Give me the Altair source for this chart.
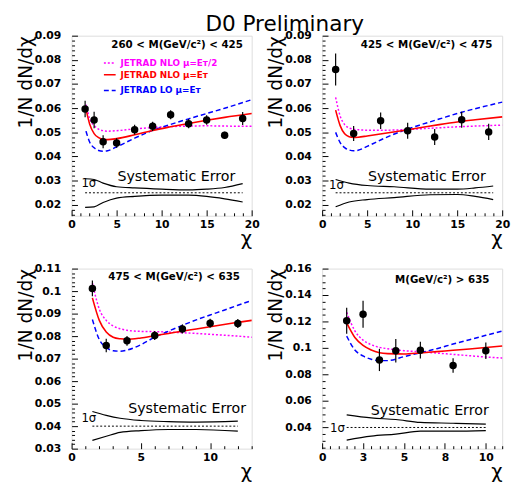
import altair as alt
import pandas as pd
import numpy as np

FONT = "DejaVu Sans"
W, H = 184, 184

TITLE = "D0 Preliminary"
MODEL_LABELS = ["JETRAD NLO μ=Eᴛ/2", "JETRAD NLO μ=Eᴛ", "JETRAD LO μ=Eᴛ"]
SYS_TEXT = "Systematic Error"
SIGMA_TEXT = "1σ"
X_TITLE = "χ"
Y_TITLE = "1/N dN/dχ"

# ---------------- panel 1 : 260 < M < 425 ----------------
P1_LABEL = "260 < M(GeV/c²) < 425"
P1_X = [1.5, 2.5, 3.5, 5, 7, 9, 11, 13, 15, 17, 19]
P1_Y = [0.0597, 0.0551, 0.0461, 0.0456, 0.0511, 0.0525, 0.0573, 0.0536, 0.0551, 0.0488, 0.0557]
P1_ERR = [0.0034, 0.0034, 0.0027, 0.0020, 0.0020, 0.0019, 0.0019, 0.0019, 0.0020, 0.0015, 0.0027]
P1_CX = [1.6, 2.0, 2.5, 3.0, 3.5, 4.0, 5.0, 7.0, 9.0, 11.0, 13.0, 15.0, 17.0, 20.0]
P1_NLO_HALF = [0.0615, 0.0557, 0.0528, 0.0513, 0.0507, 0.0505, 0.0507, 0.0514, 0.0520, 0.0524, 0.0526, 0.0527, 0.0526, 0.0525]
P1_NLO = [0.0595, 0.0535, 0.0495, 0.0478, 0.0471, 0.0470, 0.0474, 0.0490, 0.0508, 0.0523, 0.0537, 0.0550, 0.0562, 0.0578]
P1_LO = [0.0505, 0.0460, 0.0436, 0.0425, 0.0422, 0.0424, 0.0440, 0.0476, 0.0508, 0.0533, 0.0556, 0.0578, 0.0600, 0.0635]
P1_SX = [1.5, 2.5, 3.5, 5, 7, 10, 13, 15, 17, 19]
P1_SUP = [0.0308, 0.0305, 0.0290, 0.0275, 0.0270, 0.0265, 0.0262, 0.0265, 0.0272, 0.0288]
P1_SLO = [0.0190, 0.0192, 0.0210, 0.0228, 0.0235, 0.0240, 0.0240, 0.0235, 0.0225, 0.0212]
P1_SMID = 0.025
P1_XTICKS = [0, 5, 10, 15, 20]
P1_YTICKS = [0.02, 0.03, 0.04, 0.05, 0.06, 0.07, 0.08, 0.09]

# ---------------- panel 2 : 425 < M < 475 ----------------
P2_LABEL = "425 < M(GeV/c²) < 475"
P2_X = [1.5, 3.5, 6.5, 9.5, 12.5, 15.5, 18.5]
P2_Y = [0.0760, 0.0495, 0.0548, 0.0507, 0.0481, 0.0552, 0.0502]
P2_ERR = [0.0066, 0.0031, 0.0034, 0.0033, 0.0033, 0.0033, 0.0034]
P2_CX = [1.5, 2.0, 2.5, 3.0, 3.5, 4.0, 5.0, 7.0, 9.0, 11.0, 13.0, 15.0, 17.0, 20.0]
P2_NLO_HALF = [0.0645, 0.0568, 0.0532, 0.0518, 0.0513, 0.0511, 0.0509, 0.0509, 0.0511, 0.0515, 0.0519, 0.0523, 0.0526, 0.0530]
P2_NLO = [0.0592, 0.0528, 0.0494, 0.0482, 0.0479, 0.0480, 0.0485, 0.0496, 0.0508, 0.0520, 0.0532, 0.0543, 0.0552, 0.0564]
P2_LO = [0.0500, 0.0458, 0.0437, 0.0427, 0.0424, 0.0426, 0.0442, 0.0477, 0.0507, 0.0532, 0.0555, 0.0578, 0.0598, 0.0625]
P2_SX = [1.5, 3, 5, 8, 12, 15, 17, 19]
P2_SUP = [0.0305, 0.0290, 0.0280, 0.0275, 0.0265, 0.0265, 0.0270, 0.0278]
P2_SLO = [0.0192, 0.0212, 0.0222, 0.0230, 0.0242, 0.0243, 0.0235, 0.0222]
P2_SMID = 0.025
P2_XTICKS = [0, 5, 10, 15, 20]
P2_YTICKS = [0.02, 0.03, 0.04, 0.05, 0.06, 0.07, 0.08, 0.09]

# ---------------- panel 3 : 475 < M < 635 ----------------
P3_LABEL = "475 < M(GeV/c²) < 635"
P3_X = [1.5, 2.5, 4, 6, 8, 10, 12]
P3_Y = [0.1012, 0.0758, 0.0779, 0.0803, 0.0832, 0.0857, 0.0856]
P3_ERR = [0.0035, 0.0030, 0.0022, 0.0020, 0.0020, 0.0020, 0.0020]
P3_CX = [1.5, 2, 2.5, 3, 3.5, 4, 5, 6, 7, 8, 9, 10, 11, 12, 13]
P3_NLO_HALF = [0.1035, 0.0920, 0.0870, 0.0845, 0.0833, 0.0826, 0.0821, 0.0820, 0.0818, 0.0815, 0.0812, 0.0808, 0.0804, 0.0800, 0.0795]
P3_NLO = [0.0970, 0.0870, 0.0818, 0.0795, 0.0788, 0.0786, 0.0792, 0.0802, 0.0812, 0.0822, 0.0832, 0.0842, 0.0852, 0.0861, 0.0870]
P3_LO = [0.0874, 0.0785, 0.0750, 0.0735, 0.0733, 0.0738, 0.0762, 0.0795, 0.0822, 0.0848, 0.0872, 0.0894, 0.0915, 0.0937, 0.0958]
P3_SX = [1.5, 2.5, 3.5, 5, 7, 9, 12]
P3_SUP = [0.0465, 0.0448, 0.0435, 0.0425, 0.0420, 0.0418, 0.0422]
P3_SLO = [0.0337, 0.0355, 0.0372, 0.0380, 0.0385, 0.0385, 0.0378]
P3_SMID = 0.04
P3_XTICKS = [0, 5, 10]
P3_YTICKS = [0.03, 0.04, 0.05, 0.06, 0.07, 0.08, 0.09, 0.1, 0.11]

# ---------------- panel 4 : M > 635 ----------------
P4_LABEL = "M(GeV/c²) > 635"
P4_X = [1.5, 2.5, 3.5, 4.5, 6, 8, 10]
P4_Y = [0.1206, 0.1255, 0.0910, 0.0979, 0.0984, 0.0868, 0.0979]
P4_ERR = [0.0099, 0.0102, 0.0084, 0.0089, 0.0064, 0.0055, 0.0062]
P4_CX = [1.5, 2, 2.5, 3, 3.5, 4, 5, 6, 7, 8, 9, 10, 11]
P4_NLO_HALF = [0.1270, 0.1130, 0.1060, 0.1025, 0.1005, 0.0995, 0.0980, 0.0972, 0.0962, 0.0952, 0.0942, 0.0932, 0.0925]
P4_NLO = [0.1190, 0.1080, 0.1020, 0.0985, 0.0965, 0.0958, 0.0955, 0.0963, 0.0973, 0.0983, 0.0993, 0.1004, 0.1015]
P4_LO = [0.1090, 0.0985, 0.0940, 0.0915, 0.0905, 0.0905, 0.0935, 0.0965, 0.0995, 0.1030, 0.1063, 0.1096, 0.1128]
P4_SX = [1.5, 3, 4.5, 6, 8, 10]
P4_SUP = [0.0495, 0.0472, 0.0460, 0.0438, 0.0432, 0.0425]
P4_SLO = [0.0305, 0.0335, 0.0350, 0.0372, 0.0372, 0.0376]
P4_SMID = 0.04
P4_XTICKS = [0, 2.5, 5, 7.5, 10]
P4_YTICKS = [0.04, 0.06, 0.08, 0.1, 0.12, 0.14, 0.16]

MAGENTA, RED, BLUE = "#ff00ff", "#ff0000", "#0000ff"


def minor(lo, hi, step):
    k0 = int(np.ceil(lo / step - 1e-9))
    k1 = int(np.floor(hi / step + 1e-9))
    return [round(k * step, 6) for k in range(k0, k1 + 1)]


def txt(s, x, y, size, weight="normal", align="left", color="black"):
    return alt.Chart(pd.DataFrame({"t": [s]})).mark_text(
        font=FONT, fontSize=size, fontWeight=weight, align=align,
        baseline="middle", color=color
    ).encode(text="t:N", x=alt.value(x), y=alt.value(y))


def panel(label, xmax, ymin, ymax, xmajor, ymajor, xminor, yminor, xstep, ystep,
          px, py, perr, cx, c_half, c_nlo, c_lo, sx, s_up, s_lo, s_mid,
          lab_pos, sys_pos, sig_pos, legend=False):
    xs = alt.Scale(domain=[0, xmax], nice=False, zero=False)
    ys = alt.Scale(domain=[ymin, ymax], nice=False, zero=False)

    ax_lab_x = alt.Axis(values=xmajor, orient="bottom", ticks=False, domain=False, grid=False,
                        labelFont=FONT, labelFontWeight="bold", labelFontSize=11, labelColor="black",
                        labelPadding=3, labelFlush=False, labelOverlap=False, format="~r",
                        title=X_TITLE, titleFont=FONT, titleFontSize=20, titleFontWeight="normal",
                        titleColor="black", titleX=W, titleY=29, titleAlign="right",
                        titleBaseline="alphabetic", titleAngle=0)
    ax_lab_y = alt.Axis(values=ymajor, orient="left", ticks=False, domain=False, grid=False,
                        labelFont=FONT, labelFontWeight="bold", labelFontSize=11, labelColor="black",
                        labelPadding=11, labelOverlap=False, format="~r",
                        title=Y_TITLE, titleFont=FONT, titleFontSize=19, titleFontWeight="normal",
                        titleColor="black", titleAnchor="end", titlePadding=-1)
    ax_tick_x = alt.Axis(values=xminor, orient="top", offset=-H, labels=False, domain=False,
                         grid=False, title=None, tickColor="black", tickWidth=1,
                         tickSize={"condition": {"test": f"abs(datum.value/{xstep} - round(datum.value/{xstep})) < 0.000001", "value": 6}, "value": 3})
    ax_tick_y = alt.Axis(values=yminor, orient="right", offset=-W, labels=False, domain=False,
                         grid=False, title=None, tickColor="black", tickWidth=1,
                         tickSize={"condition": {"test": f"abs(datum.value/{ystep} - round(datum.value/{ystep})) < 0.000001", "value": 6}, "value": 3})

    mid_df = pd.DataFrame({"chi": [sx[0], sx[-1]], "v": [s_mid, s_mid]})
    mid = alt.Chart(mid_df).mark_line(color="black", strokeWidth=1, strokeDash=[2, 2]).encode(
        x=alt.X("chi:Q", scale=xs, axis=ax_lab_x), y=alt.Y("v:Q", scale=ys, axis=ax_lab_y))

    sys_df = pd.DataFrame({"chi": sx, "up": s_up, "lo": s_lo})
    sys_up = alt.Chart(sys_df).mark_line(color="black", strokeWidth=1.2, interpolate="monotone").encode(
        x=alt.X("chi:Q", scale=xs, axis=None), y=alt.Y("up:Q", scale=ys, axis=None))
    sys_lo = alt.Chart(sys_df).mark_line(color="black", strokeWidth=1.2, interpolate="monotone").encode(
        x=alt.X("chi:Q", scale=xs, axis=None), y=alt.Y("lo:Q", scale=ys, axis=None))

    cdf = pd.DataFrame({"chi": cx, "half": c_half, "nlo": c_nlo, "lo": c_lo})
    c1 = alt.Chart(cdf).mark_line(color=MAGENTA, strokeWidth=1.5, strokeDash=[2, 2], interpolate="monotone").encode(
        x=alt.X("chi:Q", scale=xs, axis=None), y=alt.Y("half:Q", scale=ys, axis=None))
    c3 = alt.Chart(cdf).mark_line(color=BLUE, strokeWidth=1.5, strokeDash=[5, 3], interpolate="monotone").encode(
        x=alt.X("chi:Q", scale=xs, axis=None), y=alt.Y("lo:Q", scale=ys, axis=None))
    c2 = alt.Chart(cdf).mark_line(color=RED, strokeWidth=1.6, interpolate="monotone").encode(
        x=alt.X("chi:Q", scale=xs, axis=ax_tick_x), y=alt.Y("nlo:Q", scale=ys, axis=ax_tick_y))

    pdf = pd.DataFrame({"chi": px, "v": py, "e": perr})
    bars = alt.Chart(pdf).transform_calculate(lo="datum.v - datum.e", hi="datum.v + datum.e").mark_rule(
        color="black", strokeWidth=1.2).encode(
        x=alt.X("chi:Q", scale=xs, axis=None), y=alt.Y("lo:Q", scale=ys, axis=None), y2="hi:Q")
    pts = alt.Chart(pdf).mark_circle(color="black", size=58, opacity=1).encode(
        x=alt.X("chi:Q", scale=xs, axis=None), y=alt.Y("v:Q", scale=ys, axis=None))

    layers = [mid, sys_up, sys_lo, c1, c3, c2, bars, pts,
              txt(label, lab_pos[0], lab_pos[1], 10.5, weight="bold", align="right"),
              txt(SYS_TEXT, sys_pos[0], sys_pos[1], 14.5, align="center"),
              txt(SIGMA_TEXT, sig_pos[0], sig_pos[1], 12, align="left")]

    if legend:
        rows = [(28, MAGENTA, [2, 2]), (40, RED, [1, 0]), (56, BLUE, [5, 3])]
        for (yy, col, dash), lab in zip(rows, MODEL_LABELS):
            layers.append(alt.Chart(pd.DataFrame({"k": [lab]})).mark_rule(
                color=col, strokeWidth=1.5, strokeDash=dash).encode(
                x=alt.value(33), x2=alt.value(45), y=alt.value(yy)))
            layers.append(txt(lab, 50, yy, 9, weight="bold", color=col))

    return alt.layer(*layers).resolve_axis(x="independent", y="independent").properties(width=W, height=H)


p1 = panel(P1_LABEL, 20, 0.0155, 0.09, P1_XTICKS, P1_YTICKS, minor(0, 20, 1), minor(0.0155, 0.09, 0.002), 5, 0.01,
           P1_X, P1_Y, P1_ERR, P1_CX, P1_NLO_HALF, P1_NLO, P1_LO, P1_SX, P1_SUP, P1_SLO, P1_SMID,
           (175, 9.5), (107, 144), (10, 151), legend=True)
p2 = panel(P2_LABEL, 20, 0.0155, 0.09, P2_XTICKS, P2_YTICKS, minor(0, 20, 1), minor(0.0155, 0.09, 0.002), 5, 0.01,
           P2_X, P2_Y, P2_ERR, P2_CX, P2_NLO_HALF, P2_NLO, P2_LO, P2_SX, P2_SUP, P2_SLO, P2_SMID,
           (174, 9.5), (107, 144), (7, 153))
p3 = panel(P3_LABEL, 13, 0.03, 0.11, P3_XTICKS, P3_YTICKS, minor(0, 13, 1), minor(0.03, 0.11, 0.002), 5, 0.01,
           P3_X, P3_Y, P3_ERR, P3_CX, P3_NLO_HALF, P3_NLO, P3_LO, P3_SX, P3_SUP, P3_SLO, P3_SMID,
           (172, 9), (118, 144), (10, 153))
p4 = panel(P4_LABEL, 11, 0.024, 0.16, P4_XTICKS, P4_YTICKS, minor(0, 11, 0.5), minor(0.024, 0.16, 0.005), 2.5, 0.02,
           P4_X, P4_Y, P4_ERR, P4_CX, P4_NLO_HALF, P4_NLO, P4_LO, P4_SX, P4_SUP, P4_SLO, P4_SMID,
           (171, 12), (110, 146), (8, 163))

chart = alt.concat(p1, p2, p3, p4, columns=2, spacing={"row": 54, "column": 72}, bounds="flush").properties(
    title=alt.TitleParams(TITLE, font=FONT, fontSize=22, fontWeight="normal", color="black",
                          anchor="middle", offset=-7, dx=22),
    padding={"left": 8, "top": 0, "right": 0, "bottom": 5},
).configure_view(stroke="black", strokeWidth=1).configure(background="white")

chart.save("out.html", embed_options={"renderer": "svg", "actions": False})
